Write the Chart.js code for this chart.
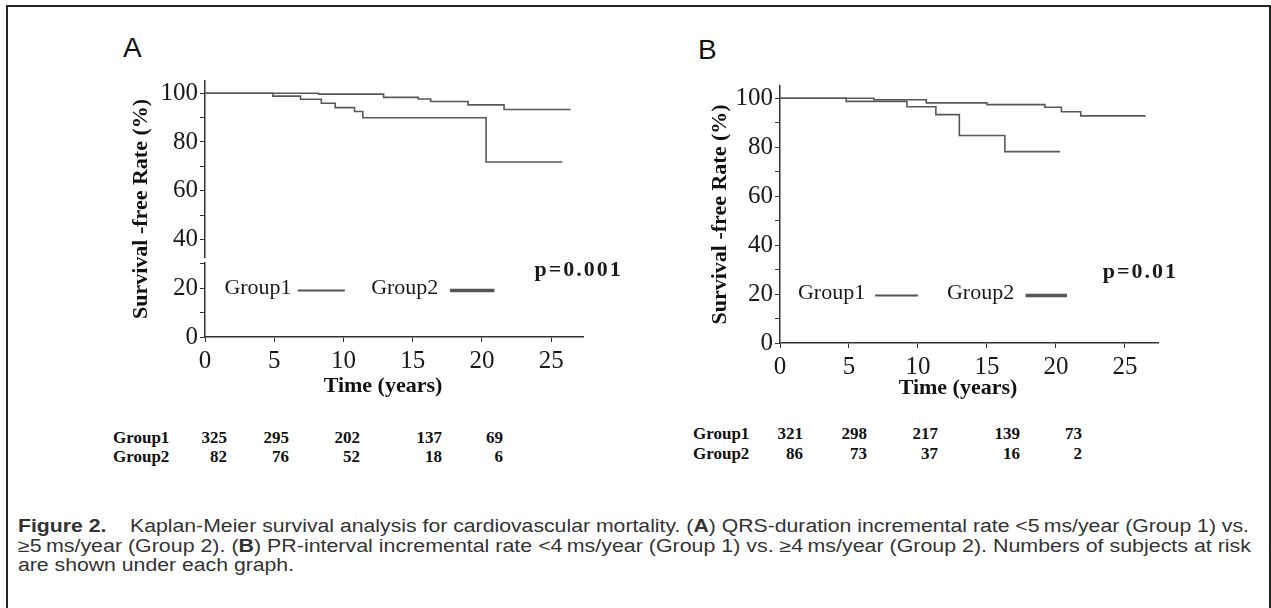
<!DOCTYPE html>
<html>
<head>
<meta charset="utf-8">
<script src="https://cdn.jsdelivr.net/npm/chart.js@4.4.1/dist/chart.umd.min.js"></script>
<style>
  body { margin: 0; width: 1271px; height: 608px; background: #fff; position: relative; overflow: hidden; }
  #frame { position: absolute; left: 6px; top: 5px; width: 1261px; height: 700px; border: 2px solid #222; border-bottom: none; }
  .panel { position: absolute; font: 28px 'Liberation Sans', sans-serif; color: #111; line-height: 28px; }
  canvas { position: absolute; }
  .risk { position: absolute; font: bold 17px 'Liberation Serif', serif; color: #111; line-height: 20px; white-space: nowrap; }
  .cap { position: absolute; left: 18px; font: 18px 'Liberation Sans', sans-serif; color: #333; white-space: nowrap; line-height: 19px; transform-origin: 0 50%; }
</style>
</head>
<body>
<div id="frame"></div>
<div class="panel" style="left:123px; top:34px;">A</div>
<div class="panel" style="left:698px; top:36px;">B</div>
<canvas id="chartA" width="540" height="340" style="left:100px; top:60px;"></canvas>
<canvas id="chartB" width="530" height="340" style="left:680px; top:65px;"></canvas>
<div id="riskTables"></div>
<div class="cap" id="cap1" style="top:517px;"><b>Figure 2.</b>&nbsp;&nbsp;&nbsp; Kaplan-Meier survival analysis for cardiovascular mortality. (<b>A</b>) QRS-duration incremental rate &lt;5&thinsp;ms/year (Group 1) vs.</div>
<div class="cap" id="cap2" style="top:537px;">≥5&thinsp;ms/year (Group 2). (<b>B</b>) PR-interval incremental rate &lt;4&thinsp;ms/year (Group 1) vs. ≥4&thinsp;ms/year (Group 2). Numbers of subjects at risk</div>
<div class="cap" id="cap3" style="top:556px;">are shown under each graph.</div>

<script>
// series names
const seriesNames = ['Group1', 'Group2'];

// panel A: QRS-duration, time (years) / survival-free rate (%)
const timeA1 = [0, 8.2, 12.9, 15.4, 16.3, 19.0, 21.6, 26.4];
const survA1 = [100, 99.6, 98.3, 97.6, 96.6, 95.2, 93.3, 93.3];
const timeA2 = [0, 4.9, 6.9, 8.4, 9.4, 10.8, 11.4, 20.3, 25.8];
const survA2 = [100, 98.8, 97.5, 95.9, 94.1, 92.5, 89.9, 71.8, 71.8];

// panel B: PR-interval
const timeB1 = [0, 6.8, 10.6, 15.0, 19.2, 20.4, 21.8, 26.5];
const survB1 = [100, 99.4, 98.1, 97.4, 96.3, 94.5, 92.8, 92.8];
const timeB2 = [0, 4.8, 9.2, 11.3, 13.0, 16.3, 20.3];
const survB2 = [100, 98.7, 96.5, 93.3, 84.8, 78.2, 78.2];

// numbers at risk
const riskA1 = [325, 295, 202, 137, 69];
const riskA2 = [82, 76, 52, 18, 6];
const riskB1 = [321, 298, 217, 139, 73];
const riskB2 = [86, 73, 37, 16, 2];

const pValueA = 'p=0.001';
const pValueB = 'p=0.01';

const xTickStep = 5;
const yTickStep = 10;
const yLabelStep = 20;

function toPoints(ts, ss) {
    return ts.map((t, i) => ({ x: t, y: ss[i] }));
}

// draws the in-plot legend and p value
const plotNotes = {
    id: 'plotNotes',
    afterDatasetsDraw(chart, args, opts) {
        const ctx = chart.ctx;
        const x = chart.scales.x, y = chart.scales.y;
        ctx.save();
        if (opts.axisBreak) {
            ctx.fillStyle = '#fff';
            const y1 = y.getPixelForValue(opts.axisBreak[1]);
            const y2 = y.getPixelForValue(opts.axisBreak[0]);
            ctx.fillRect(x.left - 3, y1, 6, y2 - y1);
        }
        ctx.textBaseline = 'middle';
        ctx.textAlign = 'left';
        ctx.fillStyle = '#1a1a1a';
        opts.texts.forEach(t => {
            ctx.font = t.font;
            ctx.letterSpacing = t.spacing || '0px';
            ctx.fillText(t.text, x.getPixelForValue(t.x), y.getPixelForValue(t.y));
        });
        opts.lines.forEach(l => {
            ctx.strokeStyle = l.color;
            ctx.lineWidth = l.width;
            ctx.beginPath();
            const py = Math.round(y.getPixelForValue(l.y)) + 0.5;
            ctx.moveTo(x.getPixelForValue(l.x1), py);
            ctx.lineTo(x.getPixelForValue(l.x2), py);
            ctx.stroke();
        });
        ctx.restore();
    }
};

function makeKM(id, d1, d2, cfg) {
    const tickFont = { family: "'Liberation Serif', serif", size: 25 };
    const titleFont = { family: "'Liberation Serif', serif", size: 22, weight: 'bold' };
    return new Chart(document.getElementById(id), {
        type: 'line',
        data: {
            datasets: [
                { label: seriesNames[0], data: d1, stepped: 'before', borderColor: '#585858', borderWidth: 1.6, pointRadius: 0, fill: false },
                { label: seriesNames[1], data: d2, stepped: 'before', borderColor: '#585858', borderWidth: 1.6, pointRadius: 0, fill: false }
            ]
        },
        options: {
            responsive: false,
            animation: false,
            layout: { padding: { top: cfg.padTop, right: cfg.padRight, left: 0, bottom: 0 } },
            plugins: {
                legend: { display: false },
                tooltip: { enabled: false },
                plotNotes: {
                    axisBreak: cfg.axisBreak,
                    texts: [
                        { text: seriesNames[0], x: cfg.leg.g1x, y: cfg.leg.ty, font: "22px 'Liberation Serif', serif" },
                        { text: seriesNames[1], x: cfg.leg.g2x, y: cfg.leg.ty, font: "22px 'Liberation Serif', serif" },
                        { text: cfg.pText, x: cfg.leg.px, y: cfg.leg.py, font: "bold 22px 'Liberation Serif', serif", spacing: '2px' }
                    ],
                    lines: [
                        { x1: cfg.leg.l1[0], x2: cfg.leg.l1[1], y: cfg.leg.ly, width: 2, color: '#555' },
                        { x1: cfg.leg.l2[0], x2: cfg.leg.l2[1], y: cfg.leg.ly, width: 3.5, color: '#555' }
                    ]
                }
            },
            scales: {
                x: {
                    type: 'linear',
                    min: 0,
                    max: cfg.xMax,
                    afterFit: s => { s.height = cfg.xHeight; },
                    border: { color: '#333', width: 1.5 },
                    grid: { drawOnChartArea: false, drawTicks: true, tickLength: 5, color: '#333' },
                    ticks: { stepSize: xTickStep, includeBounds: false, font: tickFont, color: '#1a1a1a', padding: 4, maxRotation: 0 },
                    title: { display: true, text: 'Time (years)\u00a0\u00a0\u00a0\u00a0', font: titleFont, color: '#111', padding: { top: 0, bottom: cfg.xTitlePad } }
                },
                y: {
                    min: 0,
                    max: 105,
                    afterFit: s => { s.width = cfg.yWidth; },
                    border: { color: '#333', width: 1.5 },
                    grid: { drawOnChartArea: false, drawTicks: true, tickLength: 5, color: '#333' },
                    ticks: {
                        stepSize: yTickStep, includeBounds: false, autoSkip: false,
                        font: tickFont, color: '#1a1a1a', padding: 2,
                        callback: v => (v % yLabelStep === 0 ? v : '')
                    },
                    title: { display: true, text: 'Survival -free Rate (%)', font: titleFont, color: '#111', padding: { top: cfg.yTitlePad, bottom: 0 } }
                }
            }
        },
        plugins: [plotNotes]
    });
}

makeKM('chartA', toPoints(timeA1, survA1), toPoints(timeA2, survA2), {
    padTop: 21, padRight: 57, xMax: 27.3, xHeight: 63, yWidth: 105, xTitlePad: 0, yTitlePad: 28,
    axisBreak: [30.8, 32.3], pText: pValueA,
    leg: { g1x: 1.4, g2x: 12.0, ty: 20, l1: [6.7, 10.1], l2: [17.7, 20.9], ly: 19.2, px: 23.8, py: 27.5 }
});

makeKM('chartB', toPoints(timeB1, survB1), toPoints(timeB2, survB2), {
    padTop: 21, padRight: 52, xMax: 27.4, xHeight: 62, yWidth: 100, xTitlePad: 3, yTitlePad: 27,
    axisBreak: null, pText: pValueB,
    leg: { g1x: 1.3, g2x: 12.1, ty: 20.5, l1: [6.9, 10.0], l2: [17.8, 20.8], ly: 19.8, px: 23.4, py: 28.7 }
});

// numbers at risk tables
const riskLayout = [
    { rows: [riskA1, riskA2], labelX: 113, colRight: [227, 289, 360, 442, 503], rowY: [438, 457] },
    { rows: [riskB1, riskB2], labelX: 693, colRight: [803, 867, 938, 1020, 1082], rowY: [434, 454] }
];
const holder = document.getElementById('riskTables');
riskLayout.forEach(tab => {
    tab.rows.forEach((vals, r) => {
        const lab = document.createElement('div');
        lab.className = 'risk';
        lab.textContent = seriesNames[r];
        lab.style.left = tab.labelX + 'px';
        lab.style.top = (tab.rowY[r] - 10) + 'px';
        holder.appendChild(lab);
        vals.forEach((v, c) => {
            const el = document.createElement('div');
            el.className = 'risk';
            el.textContent = v;
            el.style.right = (1271 - tab.colRight[c]) + 'px';
            el.style.top = (tab.rowY[r] - 10) + 'px';
            holder.appendChild(el);
        });
    });
});

// squeeze caption lines to the printed width
const cap1 = document.getElementById('cap1');
const cap2 = document.getElementById('cap2');
const cap3 = document.getElementById('cap3');
const s1 = 1231 / cap1.getBoundingClientRect().width;
const s2 = 1233 / cap2.getBoundingClientRect().width;
cap1.style.transform = 'scaleX(' + s1 + ')';
cap2.style.transform = 'scaleX(' + s2 + ')';
cap3.style.transform = 'scaleX(' + s1 + ')';
</script>
</body>
</html>
